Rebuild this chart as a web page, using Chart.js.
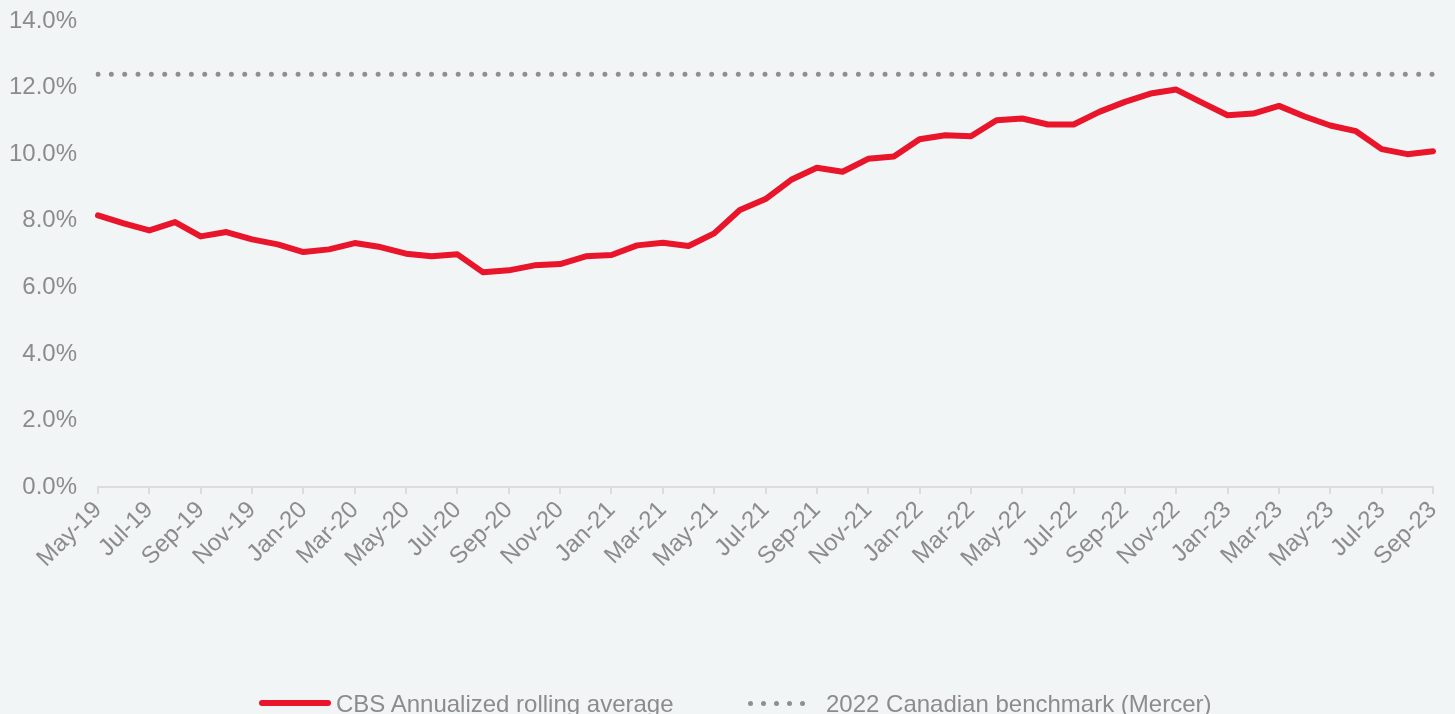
<!DOCTYPE html>
<html>
<head>
<meta charset="utf-8">
<script src="https://cdn.jsdelivr.net/npm/chart.js@4.4.0/dist/chart.umd.min.js"></script>
<style>
  html, body { margin: 0; padding: 0; background: #f2f5f6; }
  #wrap { position: relative; width: 1455px; height: 714px; overflow: hidden; }
  #legend {
    position: absolute; left: 0; width: 1455px; top: 689px; height: 30px;
    font-family: "Liberation Sans", Arial, sans-serif; font-size: 24px; color: #8c8c8c;
  }
  .item { position: absolute; top: 0; height: 30px; line-height: 30px; white-space: nowrap; }
  .swatch { position: absolute; }
  .dot { position: absolute; top: 12px; width: 5px; height: 5px; border-radius: 50%; background: #8f8f8f; }
</style>
</head>
<body>
<div id="wrap">
  <canvas id="myChart"></canvas>
  <div id="legend">
    <span class="swatch" style="left:259px; top:11px; width:72px; height:6px; background:#e8152b; border-radius:3px;"></span>
    <span class="item" style="left:336px;">CBS Annualized rolling average</span>
    <span class="dot" style="left:748px;"></span>
    <span class="dot" style="left:761px;"></span>
    <span class="dot" style="left:774px;"></span>
    <span class="dot" style="left:787px;"></span>
    <span class="dot" style="left:800px;"></span>
    <span class="item" style="left:826px;">2022 Canadian benchmark (Mercer)</span>
  </div>
</div>
<script>
// months from May-19 to Sep-23
const months = [
    'May-19', 'Jun-19', 'Jul-19', 'Aug-19', 'Sep-19', 'Oct-19', 'Nov-19', 'Dec-19',
    'Jan-20', 'Feb-20', 'Mar-20', 'Apr-20', 'May-20', 'Jun-20', 'Jul-20', 'Aug-20', 'Sep-20', 'Oct-20', 'Nov-20', 'Dec-20',
    'Jan-21', 'Feb-21', 'Mar-21', 'Apr-21', 'May-21', 'Jun-21', 'Jul-21', 'Aug-21', 'Sep-21', 'Oct-21', 'Nov-21', 'Dec-21',
    'Jan-22', 'Feb-22', 'Mar-22', 'Apr-22', 'May-22', 'Jun-22', 'Jul-22', 'Aug-22', 'Sep-22', 'Oct-22', 'Nov-22', 'Dec-22',
    'Jan-23', 'Feb-23', 'Mar-23', 'Apr-23', 'May-23', 'Jun-23', 'Jul-23', 'Aug-23', 'Sep-23'
];

// CBS annualized rolling average (%)
const cbsRolling = [
    8.16, 7.92, 7.71, 7.96, 7.53, 7.66, 7.44, 7.29,
    7.06, 7.14, 7.33, 7.21, 7.01, 6.93, 6.99, 6.45, 6.51, 6.66, 6.70, 6.93,
    6.97, 7.26, 7.34, 7.24, 7.62, 8.32, 8.65, 9.23, 9.59, 9.47, 9.86, 9.93,
    10.45, 10.57, 10.54, 11.02, 11.07, 10.89, 10.89, 11.27, 11.57, 11.82, 11.94, 11.55,
    11.17, 11.22, 11.45, 11.13, 10.86, 10.69, 10.15, 10.00, 10.09
];

// Mercer 2022 benchmark (%)
const benchmarkValue = 12.4;

const yTicks = [0, 2, 4, 6, 8, 10, 12, 14];

const grey = '#8c8c8c';
const font = { family: '"Liberation Sans", Arial, sans-serif', size: 24 };

var ctx = document.getElementById('myChart').getContext('2d');
var myChart = new Chart(ctx, {
    type: 'line',
    data: {
        labels: months,
        datasets: [{
            label: 'CBS Annualized rolling average',
            data: cbsRolling,
            borderColor: '#e8152b',
            backgroundColor: '#e8152b',
            borderWidth: 6,
            pointRadius: 0,
            tension: 0,
            borderJoinStyle: 'round',
            borderCapStyle: 'round'
        }, {
            label: '2022 Canadian benchmark (Mercer)',
            data: months.map(() => benchmarkValue),
            borderColor: '#8f8f8f',
            borderWidth: 5,
            borderDash: [0, 13.34],
            borderCapStyle: 'round',
            pointRadius: 0
        }]
    },
    options: {
        responsive: true,
        maintainAspectRatio: false,
        animation: false,
        layout: {
            padding: { top: 21, left: 9, right: 22, bottom: 139 }
        },
        plugins: {
            legend: { display: false },
            tooltip: { enabled: false }
        },
        scales: {
            x: {
                offset: false,
                afterFit: function (scale) {
                    // first rotated label may hang into the y axis area
                    scale.paddingLeft = 0;
                    scale.paddingRight = 0;
                },
                grid: {
                    display: true,
                    drawOnChartArea: false,
                    drawTicks: true,
                    tickLength: 7,
                    color: '#dcdcdc',
                    lineWidth: 2
                },
                border: { display: true, color: '#dcdcdc', width: 2 },
                ticks: {
                    autoSkip: false,
                    maxRotation: 45,
                    minRotation: 45,
                    padding: 2,
                    color: grey,
                    font: font,
                    callback: function (val, i) {
                        return i % 2 === 0 ? months[i] : null;
                    }
                }
            },
            y: {
                min: 0,
                max: 14,
                afterBuildTicks: function (axis) {
                    axis.ticks = yTicks.map(v => ({ value: v }));
                },
                afterFit: function (scale) {
                    scale.width = 89;
                    scale.paddingTop = 0;
                    scale.paddingBottom = 0;
                },
                grid: { display: false, drawTicks: false },
                border: { display: false },
                ticks: {
                    padding: 21,
                    color: grey,
                    font: font,
                    callback: function (v) { return v.toFixed(1) + '%'; }
                }
            }
        }
    }
});
</script>
</body>
</html>
